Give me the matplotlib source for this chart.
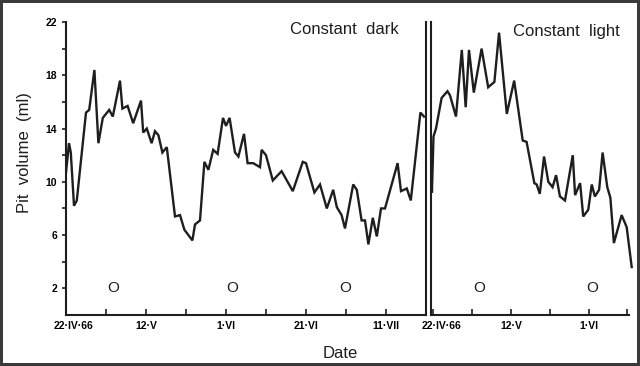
import matplotlib
matplotlib.use('Agg')
import matplotlib.pyplot as plt
from matplotlib.transforms import ScaledTranslation

plt.rcParams['font.family'] = ['Liberation Sans', 'DejaVu Sans']

# Days counted from 22 April 1966, pit volume in ml.
dark_days = [0.0, 0.75, 1.2, 2.0, 2.7, 5.0, 5.8, 7.1, 8.1, 9.2, 10.8, 11.7, 13.5, 14.1,
             15.4, 16.8, 18.75, 19.3, 20.2, 21.4, 22.25, 23.1, 24.1, 25.2, 27.25, 28.5,
             29.6, 31.6, 32.25, 33.5, 34.6, 35.6, 36.8, 37.9, 39.25, 40.0, 40.9, 42.25,
             43.1, 44.5, 45.4, 46.8, 48.5, 48.9, 50.0, 51.7, 53.9, 56.7, 59.2, 60.0,
             62.1, 63.5, 65.2, 66.8, 67.7, 68.9, 69.75, 71.8, 72.7, 73.9, 74.75, 75.6,
             76.7, 77.7, 78.75, 79.75, 82.9, 83.75, 85.2, 86.2, 88.6, 89.5]
dark_volume = [10.7, 12.9, 12.2, 8.2, 8.6, 15.2, 15.4, 18.4, 12.9, 14.8, 15.4, 14.9, 17.6,
               15.5, 15.7, 14.4, 16.1, 13.7, 14.0, 12.9, 13.8, 13.5, 12.2, 12.6, 7.4, 7.5,
               6.4, 5.6, 6.8, 7.1, 11.5, 10.9, 12.4, 12.1, 14.8, 14.2, 14.8, 12.2, 11.9,
               13.6, 11.4, 11.4, 11.1, 12.4, 12.0, 10.1, 10.8, 9.3, 11.5, 11.4, 9.2, 9.8,
               8.0, 9.4, 8.1, 7.5, 6.5, 9.8, 9.4, 7.1, 7.1, 5.3, 7.3, 5.9, 8.0, 8.0, 11.4,
               9.3, 9.5, 8.6, 15.2, 14.9]

light_days = [-0.6, -0.4, 0.0, 0.65, 2.1, 3.6, 4.25, 5.8, 7.3, 8.3, 9.15, 10.4, 12.4, 14.1,
              15.7, 16.9, 18.9, 20.8, 23.0, 24.0, 26.0, 26.6, 27.4, 28.5, 29.6, 30.7,
              31.6, 32.6, 33.9, 35.9, 36.5, 37.8, 38.6, 39.9, 40.8, 41.6, 42.7, 43.6,
              44.8, 45.6, 46.5, 48.5, 49.8, 51.1]
light_volume = [11.9, 9.2, 13.4, 14.0, 16.3, 16.8, 16.5, 14.9, 19.9, 15.6, 19.9, 16.7,
                20.0, 17.1, 17.5, 21.2, 15.1, 17.6, 13.1, 13.0, 9.9, 9.8, 9.1, 11.9, 10.0,
                9.6, 10.5, 8.9, 8.6, 12.0, 9.0, 9.9, 7.4, 7.9, 9.8, 8.9, 9.4, 12.2, 9.6,
                8.8, 5.4, 7.5, 6.6, 3.6]

# full moon dates (4 May, 2 June, 1 July)
moon_days_dark = [11.8, 41.5, 69.8]
moon_days_light = [11.7, 40.9]

dark_ticks = [0, 10, 20, 30, 40, 50, 60, 70, 80]
dark_labels = ['22·IV·66', '', '12·V', '', '1·VI', '', '21·VI', '', '11·VII']
light_ticks = [0, 10, 20, 30, 40, 50]
light_labels = ['22·IV·66', '', '12·V', '', '1·VI', '']

yticks_major = [2, 6, 10, 14, 18, 22]
yticks_minor = [4, 8, 12, 16, 20]

INK = '#1e1e1e'
W, H = 640, 366

fig = plt.figure(figsize=(6.4, 3.66), dpi=100)
fig.patch.set_edgecolor('#3a3a3a')
fig.patch.set_linewidth(3)

ax1 = fig.add_axes([66 / W, 1 - 315 / H, 360 / W, 293 / H])
ax2 = fig.add_axes([431 / W, 1 - 315 / H, 198 / W, 293 / H])

ax1.plot(dark_days, dark_volume, color=INK, lw=1.7, solid_joinstyle='miter')
ax2.plot(light_days, light_volume, color=INK, lw=1.7, solid_joinstyle='miter', clip_on=False)

for ax, moons in ((ax1, moon_days_dark), (ax2, moon_days_light)):
    for d in moons:
        ax.text(d, 2, 'O', ha='center', va='center', fontsize=11, color=INK)
    ax.set_ylim(0, 22)
    for side in ('top',):
        ax.spines[side].set_visible(False)
    for sp in ax.spines.values():
        sp.set_linewidth(1.5)
        sp.set_color(INK)
    ax.tick_params(axis='x', direction='in', length=4, width=1.2, color=INK,
                   labelsize=7.5, pad=4)
    for lab in ax.get_xticklabels():
        lab.set_fontweight('bold')

ax1.set_xlim(0, 90)
ax1.set_xticks(dark_ticks, dark_labels, fontweight='bold', fontsize=7.5)
ax1.set_yticks(yticks_major)
ax1.set_yticks(yticks_minor, minor=True)
ax1.set_yticklabels([str(v) for v in yticks_major], fontweight='bold', fontsize=7.5)
ax1.tick_params(axis='y', which='both', direction='out', length=3, width=1.2, color=INK)

ax2.set_xlim(-0.64, 50.4)
ax2.set_xticks(light_ticks, light_labels, fontweight='bold', fontsize=7.5)
ax2.set_yticks([])
ax2.spines['right'].set_visible(False)

# first date labels sit a little to the right of their tick
shift = ScaledTranslation(8 / 100, 0, fig.dpi_scale_trans)
for ax in (ax1, ax2):
    lab = ax.get_xticklabels()[0]
    lab.set_transform(lab.get_transform() + shift)

ax1.set_ylabel('Pit  volume  (ml)', fontsize=12, color=INK)
ax1.yaxis.set_label_coords(-0.094, 0.555)

ax1.text(0.774, 0.973, 'Constant  dark', transform=ax1.transAxes, ha='center',
         va='center', fontsize=12, color=INK)
ax2.text(0.684, 0.966, 'Constant  light', transform=ax2.transAxes, ha='center',
         va='center', fontsize=12, color=INK)

fig.text(340 / W, 1 - 354 / H, 'Date', ha='center', va='center', fontsize=12, color=INK)

fig.savefig('out.png', dpi=100)
plt.close(fig)
